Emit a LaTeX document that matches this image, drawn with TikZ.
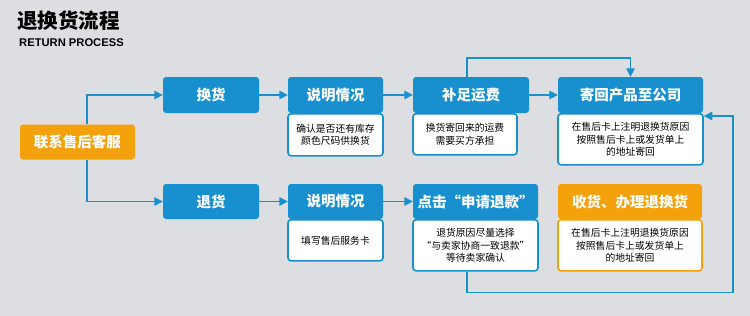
\documentclass[tikz,border=0pt]{standalone}
\usepackage{fontspec}
\usepackage{xcolor}
\usetikzlibrary{arrows.meta}
\setmainfont{Noto Sans CJK SC}
\newfontfamily\latinbold{Liberation Sans}
\definecolor{bgray}{HTML}{DDDEE2}
\definecolor{hblue}{HTML}{1890CF}
\definecolor{horange}{HTML}{F4A10C}

\begin{document}
\begin{tikzpicture}[
  x=1pt,y=-1pt,
  head/.style={rectangle,rounded corners=3pt,fill=hblue,text=white,font=\fontsize{14.5}{16}\selectfont\bfseries,inner sep=0pt,minimum height=36pt},
  ohead/.style={head,fill=horange},
  note/.style={rectangle,rounded corners=3pt,draw=hblue,line width=1.6pt,fill=white,font=\fontsize{9.8}{12.5}\selectfont,align=center,inner sep=0pt,anchor=north},
  onote/.style={note,draw=horange},
  flow/.style={draw=hblue,line width=1.6pt,-{Triangle[length=8.5pt,width=8.5pt]}}
]
  \fill[bgray] (0,0) rectangle (750,316);
  \useasboundingbox (0,0) rectangle (750,316);
  \node[anchor=west,font=\fontsize{20.5}{22}\selectfont\bfseries,inner sep=0pt] (title) at (17,21) {退换货流程};
  \node[anchor=west,font=\latinbold\fontsize{11.2}{12}\selectfont\bfseries,inner sep=0pt] (subtitle) at (19,43) {RETURN PROCESS};

  \node[ohead,minimum width=115pt,minimum height=35pt] (contact) at (77.5,142) {联系售后客服};
  \node[head,minimum width=96pt] (exch) at (211,95) {换货};
  \node[head,minimum width=96pt,minimum height=35pt] (ret) at (211,201.5) {退货};

  \node[note,minimum width=95pt,minimum height=42pt] (desc1note) at (335.5,113) {确认是否还有库存\\颜色尺码供换货};
  \node[head,minimum width=95pt] (desc1) at (335.5,95) {说明情况};
  \node[note,minimum width=104pt,minimum height=41pt] (feenote) at (465,113) {换货寄回来的运费\\需要买方承担};
  \node[head,minimum width=116pt] (fee) at (471,95) {补足运费};
  \node[note,minimum width=145pt,minimum height=51pt] (sendnote) at (630.5,113) {在售后卡上注明退换货原因\\按照售后卡上或发货单上\\的地址寄回};
  \node[head,minimum width=145pt] (send) at (630.5,95) {寄回产品至公司};

  \node[note,minimum width=95pt,minimum height=41pt] (desc2note) at (335.5,219) {填写售后服务卡};
  \node[head,minimum width=95pt,minimum height=35pt] (desc2) at (335.5,201.5) {说明情况};
  \node[note,minimum width=125pt,minimum height=51pt] (clicknote) at (475.5,219) {退货原因尽量选择\\“与卖家协商一致退款”\\等待卖家确认};
  \node[head,minimum width=125pt,minimum height=35pt] (click) at (475.5,201.5) {点击“申请退款”};
  \node[onote,minimum width=144pt,minimum height=51pt] (recvnote) at (630,219) {在售后卡上注明退换货原因\\按照售后卡上或发货单上\\的地址寄回};
  \node[ohead,minimum width=144pt,minimum height=35pt] (recv) at (630,201.5) {收货、办理退换货};

  \coordinate (rt) at (733,116);
  \draw[flow] ([xshift=9.5pt]contact.north) |- (exch.west);
  \draw[flow] ([xshift=9.5pt]contact.south) |- (ret.west);
  \draw[flow] (exch) -- (desc1);
  \draw[flow] (desc1) -- (fee);
  \draw[flow] (fee) -- (send);
  \draw[flow] ([xshift=-4pt]fee.north) -- ++(0,-19) -| (send.north);
  \draw[flow] (ret) -- (desc2);
  \draw[flow] (desc2) -- (click);
  \draw[flow] ([xshift=-8.5pt]clicknote.south) -- ++(0,21) -| (rt) -- (rt -| sendnote.east);
\end{tikzpicture}
\end{document}
